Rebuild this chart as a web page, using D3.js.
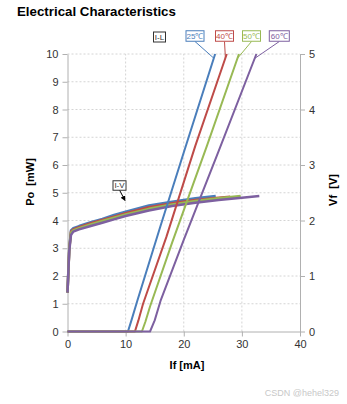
<!DOCTYPE html>
<html><head><meta charset="utf-8">
<script src="https://cdn.jsdelivr.net/npm/d3@7"></script>
<style>body{margin:0;background:#fff}svg{display:block}</style>
</head><body>
<svg id="c" width="347" height="404"></svg>
<script>
// ---- data ----
const temps = ["25℃", "40℃", "50℃", "60℃"];
const colors = ["#4a7ebb", "#be4b48", "#98b954", "#7d60a0"];
const xTicks = [0, 10, 20, 30, 40];
const yLTicks = [0,1,2,3,4,5,6,7,8,9,10];
const yRTicks = [0,1,2,3,4,5];
// I-L : Po [mW] vs If [mA]
const li25 = [[0,0],[10.4,0],[11,0.4],[12,1.1],[16,3.8],[20,6.45],[25.4,10]];
const li40 = [[0,0],[11.6,0],[12.2,0.4],[13,1.0],[17,3.4],[22,6.7],[27.4,10]];
const li50 = [[0,0],[12.8,0],[13.4,0.35],[14.2,0.9],[18,3.2],[24,6.7],[29.5,10]];
const li60 = [[0,0],[14.2,0],[15,0.4],[16,1.1],[20,3.3],[26,6.5],[32.5,10]];
// I-V : Vf [V] vs If [mA]
const iv25 = [[0,0.7],[0.3,1.5],[0.6,1.82],[1,1.86],[2,1.9],[4,1.97],[6,2.03],[8,2.1],[10,2.16],[14,2.27],[18,2.34],[22,2.4],[25.5,2.44]];
const iv40 = [[0,0.7],[0.3,1.48],[0.6,1.8],[1,1.84],[2,1.88],[4,1.95],[6,2.01],[8,2.07],[10,2.13],[14,2.24],[18,2.31],[22,2.37],[26,2.41],[28,2.43]];
const iv50 = [[0,0.7],[0.3,1.47],[0.6,1.78],[1,1.82],[2,1.86],[4,1.93],[6,1.99],[8,2.05],[10,2.11],[14,2.21],[18,2.29],[22,2.35],[26,2.4],[29.8,2.44]];
const iv60 = [[0,0.7],[0.3,1.45],[0.6,1.74],[1,1.8],[2,1.84],[4,1.9],[6,1.96],[8,2.02],[10,2.08],[14,2.18],[18,2.26],[22,2.32],[26,2.37],[30,2.41],[33,2.44]];

const liSeries = [li25, li40, li50, li60];
const ivSeries = [iv25, iv40, iv50, iv60];

// ---- chart ----
const svg = d3.select("#c");
const x = d3.scaleLinear().domain([0, 40]).range([67.5, 300]);
const yL = d3.scaleLinear().domain([0, 10]).range([331.5, 54]);
const yR = d3.scaleLinear().domain([0, 5]).range([331.5, 54]);
const font = "'Liberation Sans', Arial, sans-serif";
const fmt = d3.format("d");

svg.append("text").attr("x", 17).attr("y", 16).attr("font-family", font)
  .attr("font-weight", "bold").attr("font-size", 13.3).attr("fill", "#000")
  .text("Electrical Characteristics");

// grid
const g = svg.append("g");
g.selectAll(".hg").data(yLTicks.filter(d => d > 0)).join("line")
  .attr("x1", x(0)).attr("x2", x(40)).attr("y1", d => yL(d)).attr("y2", d => yL(d))
  .attr("stroke", "#d4d4d4").attr("stroke-dasharray", "2,2");
g.selectAll(".vg").data(xTicks.filter(d => d > 0 && d < 40)).join("line")
  .attr("x1", d => x(d)).attr("x2", d => x(d)).attr("y1", yL(0)).attr("y2", yL(10))
  .attr("stroke", "#d4d4d4").attr("stroke-dasharray", "2,2");

function styleAxis(sel) {
  sel.select(".domain").attr("stroke", "#b0b0b0");
  sel.selectAll(".tick line").attr("stroke", "#b0b0b0");
  sel.selectAll(".tick text").attr("font-family", font).attr("font-size", 11).attr("fill", "#333");
}
svg.append("g").attr("transform", `translate(0,${yL(0)})`)
  .call(d3.axisBottom(x).tickValues(xTicks).tickFormat(fmt).tickSize(5).tickSizeOuter(0).tickPadding(4))
  .call(styleAxis);
svg.append("g").attr("transform", `translate(${x(0)},0)`)
  .call(d3.axisLeft(yL).tickValues(yLTicks).tickFormat(fmt).tickSize(5).tickSizeOuter(0).tickPadding(4))
  .call(styleAxis);
svg.append("g").attr("transform", `translate(${x(40)},0)`)
  .call(d3.axisRight(yR).tickValues(yRTicks).tickFormat(fmt).tickSize(5).tickSizeOuter(0).tickPadding(4))
  .call(styleAxis);

// axis titles
svg.append("text").attr("transform", `translate(34,182) rotate(-90)`).attr("text-anchor", "middle")
  .attr("font-family", font).attr("font-weight", "bold").attr("font-size", 11).text("Po\u00a0\u00a0[mW]");
svg.append("text").attr("transform", `translate(337,190) rotate(-90)`).attr("text-anchor", "middle")
  .attr("font-family", font).attr("font-weight", "bold").attr("font-size", 11).text("Vf\u00a0\u00a0[V]");
svg.append("text").attr("x", 187).attr("y", 369).attr("text-anchor", "middle")
  .attr("font-family", font).attr("font-weight", "bold").attr("font-size", 11).text("If [mA]");

// lines
const lineL = d3.line().x(d => x(d[0])).y(d => yL(d[1]));
const lineR = d3.line().x(d => x(d[0])).y(d => yR(d[1]));
ivSeries.forEach((s, i) => {
  svg.append("path").attr("d", lineR(s)).attr("fill", "none")
    .attr("stroke", colors[i]).attr("stroke-width", 2.5).attr("stroke-linejoin", "round");
});
liSeries.forEach((s, i) => {
  svg.append("path").attr("d", lineL(s)).attr("fill", "none")
    .attr("stroke", colors[i]).attr("stroke-width", 2).attr("stroke-linejoin", "round");
});

// callouts
svg.append("defs").append("marker").attr("id", "arr").attr("viewBox", "0 0 10 10")
  .attr("refX", 9).attr("refY", 5).attr("markerWidth", 5).attr("markerHeight", 5).attr("orient", "auto")
  .append("path").attr("d", "M0,0L10,5L0,10z").attr("fill", "#000");

function box(cx, cy, w, h, txt, col) {
  svg.append("rect").attr("x", cx - w / 2).attr("y", cy - h / 2).attr("width", w).attr("height", h)
    .attr("fill", "#fff").attr("stroke", col).attr("stroke-width", 1);
  svg.append("text").attr("x", cx).attr("y", cy + 2.8).attr("text-anchor", "middle")
    .attr("font-family", font).attr("font-size", 8).attr("fill", col).text(txt);
}
box(159.5, 37, 12, 10, "I-L", "#333");
const boxCx = [195, 224.5, 251.5, 279.3];
const tipY = 9.85;
temps.forEach((t, i) => {
  const s = liSeries[i];
  const last = s[s.length - 1];
  const tx = x(last[0] - (last[1] - tipY) / 0.65), ty = yL(tipY);
  svg.append("line").attr("x1", boxCx[i]).attr("y1", 41.5).attr("x2", tx).attr("y2", ty)
    .attr("stroke", colors[i]).attr("stroke-width", 1);
  box(boxCx[i], 36, i === 3 ? 20 : 18, 10.5, t, colors[i]);
});
svg.append("line").attr("x1", 119.5).attr("y1", 190).attr("x2", x(9.9)).attr("y2", yR(2.36))
  .attr("stroke", "#000").attr("stroke-width", 1).attr("marker-end", "url(#arr)");
box(119.5, 185.5, 13, 9.5, "I-V", "#333");

svg.append("text").attr("x", 339).attr("y", 396).attr("text-anchor", "end")
  .attr("font-family", font).attr("font-size", 9).attr("fill", "#c8c8c8").text("CSDN @hehel329");
</script>
</body></html>
